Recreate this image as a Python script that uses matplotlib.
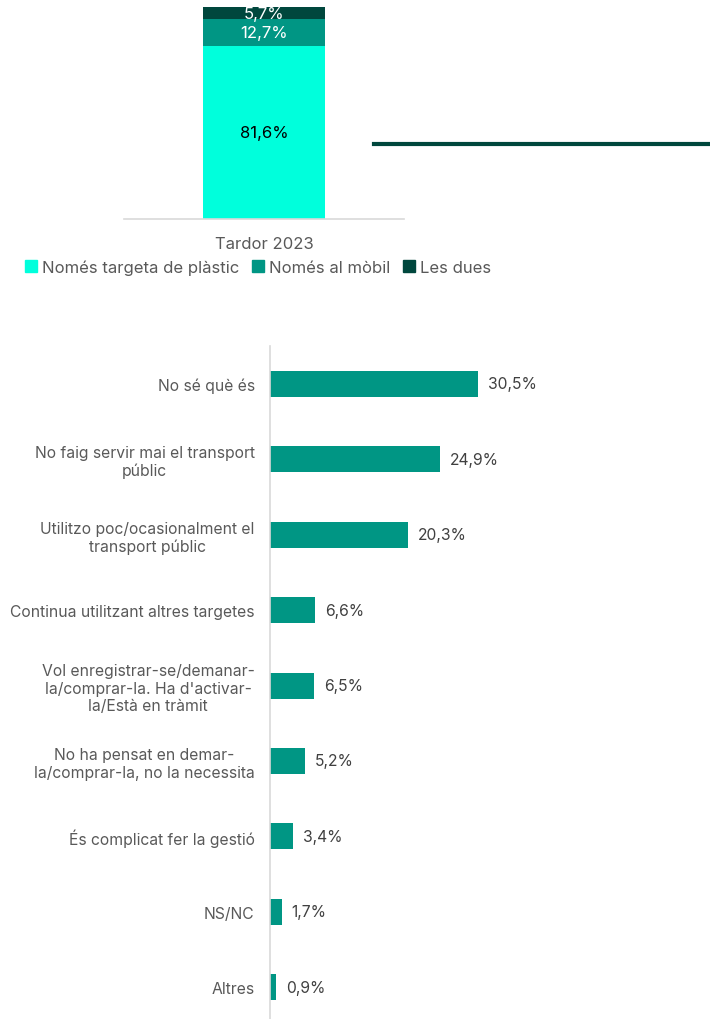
import numpy as np
import matplotlib.pyplot as plt
from matplotlib.lines import Line2D
from matplotlib.patches import Patch

plt.rcParams['font.family'] = ['Inter', 'DejaVu Sans']

# top stacked bar
top_cat = ['Tardor 2023']
series_names = ['Només targeta de plàstic', 'Només al mòbil', 'Les dues']
series_vals = [81.6, 12.7, 5.7]
series_cols = ['#00FFDC', '#009684', '#00473D']
label_cols = ['#000000', '#FFFFFF', '#FFFFFF']

# reasons chart
reasons = ['No sé què és',
           'No faig servir mai el transport\npúblic',
           'Utilitzo poc/ocasionalment el\ntransport públic',
           'Continua utilitzant altres targetes',
           "Vol enregistrar-se/demanar-\nla/comprar-la. Ha d'activar-\nla/Està en tràmit",
           'No ha pensat en demar-\nla/comprar-la, no la necessita',
           'És complicat fer la gestió',
           'NS/NC',
           'Altres']
reason_vals = [30.5, 24.9, 20.3, 6.6, 6.5, 5.2, 3.4, 1.7, 0.9]

W, H = 710, 1020
fig = plt.figure(figsize=(W / 100, H / 100), dpi=100)

def box(l, t, r, b):
    return [l / W, 1 - b / H, (r - l) / W, (b - t) / H]

grey = '#595959'
axis_grey = '#D9D9D9'

# ---- top chart
ax1 = fig.add_axes(box(124, 8, 404, 220))
bottom = 0
for name, v, c, lc in zip(series_names, series_vals, series_cols, label_cols):
    ax1.bar(0, v, width=0.436, bottom=bottom, color=c, label=name)
    ax1.text(0, bottom + v / 2, f'{v:.1f}%'.replace('.', ','), ha='center', va='center',
             color=lc, fontsize=12)
    bottom += v
ax1.set_xlim(-0.5, 0.5)
ax1.set_ylim(0, 100)
ax1.set_yticks([])
ax1.set_xticks([0])
ax1.set_xticklabels(top_cat, color=grey, fontsize=12)
ax1.tick_params(axis='x', length=0, pad=12)
for s in ['top', 'right', 'left']:
    ax1.spines[s].set_visible(False)
ax1.spines['bottom'].set_color(axis_grey)
ax1.spines['bottom'].set_linewidth(1.2)

handles = [Patch(color=c) for c in series_cols]
fig.legend(handles, series_names, loc='center', bbox_to_anchor=(258 / W, 1 - 268 / H),
           ncol=3, frameon=False, fontsize=12, handlelength=0.7, handleheight=0.7,
           handletextpad=0.3, columnspacing=0.8, labelcolor=grey)

fig.add_artist(Line2D([374 / W, 1.0], [1 - 145 / H, 1 - 145 / H], color='#00473D', lw=3))

# ---- bottom chart
ax2 = fig.add_axes(box(270, 347, 710, 1020))
y = np.arange(len(reasons))
ax2.barh(y, reason_vals, height=0.345, color='#009684')
for yi, v in zip(y, reason_vals):
    ax2.annotate(f'{v:.1f}%'.replace('.', ','), (v, yi), xytext=(7, 0),
                 textcoords='offset points', ha='left', va='center',
                 color='#404040', fontsize=11.3)
ax2.set_xlim(0, 64.5)
ax2.set_ylim(8.42, -0.50)
ax2.set_xticks([])
ax2.set_yticks(y)
ax2.set_yticklabels(reasons, color=grey, fontsize=11.3, multialignment='center')
ax2.tick_params(axis='y', length=0, pad=11)
for s in ['top', 'right', 'bottom']:
    ax2.spines[s].set_visible(False)
ax2.spines['left'].set_color(axis_grey)
ax2.spines['left'].set_linewidth(1.2)

fig.savefig('out.png', dpi=100)
